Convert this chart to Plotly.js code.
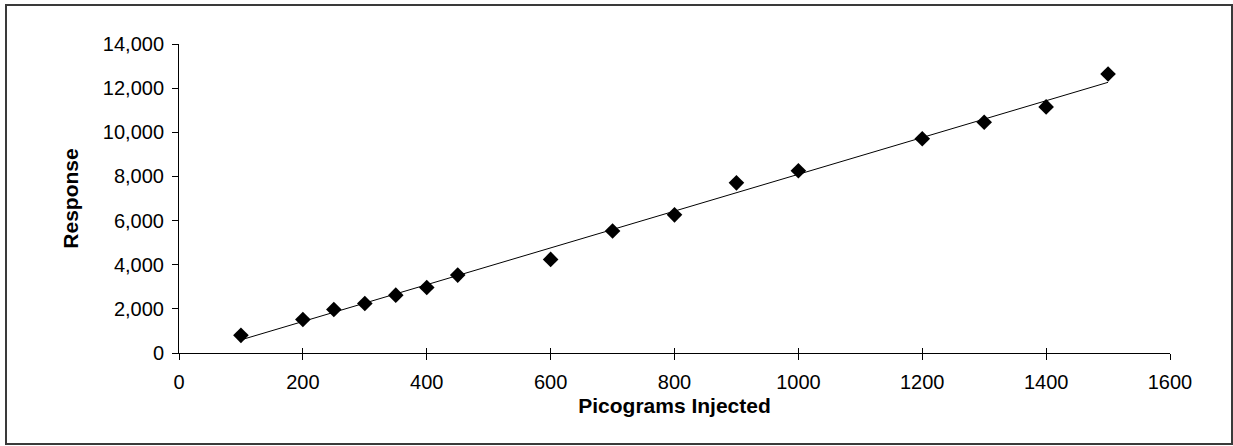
<!DOCTYPE html>
<html>
<head>
<meta charset="utf-8">
<script src="https://cdn.plot.ly/plotly-3.0.1.min.js"></script>
<style>
  html, body { margin: 0; padding: 0; background: #fff; }
  #wrap { position: relative; width: 1233px; height: 446px; }
  #chart { width: 1233px; height: 446px; }
  #frame { position: absolute; left: 5px; top: 4px; width: 1224px; height: 437px;
           border: 2px solid #3a3a3a; pointer-events: none; }
</style>
</head>
<body>
<div id="wrap">
  <div id="chart"></div>
  <div id="frame"></div>
</div>
<script>
// Data
const picograms = [100, 200, 250, 300, 350, 400, 450, 600, 700, 800, 900, 1000, 1200, 1300, 1400, 1500];
const response  = [800, 1520, 1970, 2245, 2620, 2970, 3530, 4240, 5530, 6260, 7710, 8260, 9710, 10455, 11150, 12640];
const xTicks = [0, 200, 400, 600, 800, 1000, 1200, 1400, 1600];
const yTicks = [0, 2000, 4000, 6000, 8000, 10000, 12000, 14000];
const yTickText = ['0', '2,000', '4,000', '6,000', '8,000', '10,000', '12,000', '14,000'];

// Linear trendline (least squares) from the data
const n = picograms.length;
const mx = picograms.reduce((a, b) => a + b, 0) / n;
const my = response.reduce((a, b) => a + b, 0) / n;
let sxy = 0, sxx = 0;
for (let i = 0; i < n; i++) { sxy += (picograms[i] - mx) * (response[i] - my); sxx += (picograms[i] - mx) ** 2; }
const slope = sxy / sxx, intercept = my - slope * mx;
const trendX = [picograms[0], picograms[n - 1]];
const trendY = trendX.map(x => intercept + slope * x);

const font = 'Liberation Sans, Arial, sans-serif';

const traces = [
  { x: trendX, y: trendY, xaxis: 'x2', yaxis: 'y', mode: 'lines', type: 'scatter',
    line: { color: '#000', width: 1 }, hoverinfo: 'skip', showlegend: false },
  { x: picograms, y: response, mode: 'markers', type: 'scatter',
    marker: { symbol: 'diamond', size: 12, color: '#000' }, showlegend: false }
];

const layout = {
  width: 1233, height: 446,
  margin: { l: 179, r: 63, t: 44, b: 93 },
  paper_bgcolor: '#fff', plot_bgcolor: '#fff',
  font: { family: font, color: '#000', size: 20 },
  showlegend: false,
  xaxis: {
    range: [0, 1600], tickvals: xTicks, ticktext: xTicks.map(String),
    showgrid: false, zeroline: false, showline: true, linecolor: '#000', linewidth: 1,
    ticks: 'outside', ticklen: 6, tickcolor: '#000', tickwidth: 1,
    tickfont: { family: font, size: 20, color: '#000' },
    ticklabelstandoff: 5,
    title: { text: 'Picograms Injected', font: { family: font, size: 21, color: '#000', weight: 'bold' }, standoff: 6 },
    fixedrange: true
  },
  xaxis2: {
    overlaying: 'x', anchor: 'y', side: 'bottom', range: [0, 1600], tickvals: xTicks,
    showticklabels: false, showgrid: false, zeroline: false, showline: false,
    ticks: 'inside', ticklen: 5, tickcolor: '#000', tickwidth: 1, fixedrange: true
  },
  yaxis: {
    range: [0, 14000], tickvals: yTicks, ticktext: yTickText,
    showgrid: false, zeroline: false, showline: true, linecolor: '#000', linewidth: 1,
    ticks: 'outside', ticklen: 6, tickcolor: '#000', tickwidth: 1,
    tickfont: { family: font, size: 20, color: '#000' },
    ticklabelstandoff: 4,
    title: { text: 'Response', font: { family: font, size: 21, color: '#000', weight: 'bold' }, standoff: 18 },
    fixedrange: true
  }
};

Plotly.newPlot('chart', traces, layout, { displayModeBar: false, staticPlot: true });
</script>
</body>
</html>
